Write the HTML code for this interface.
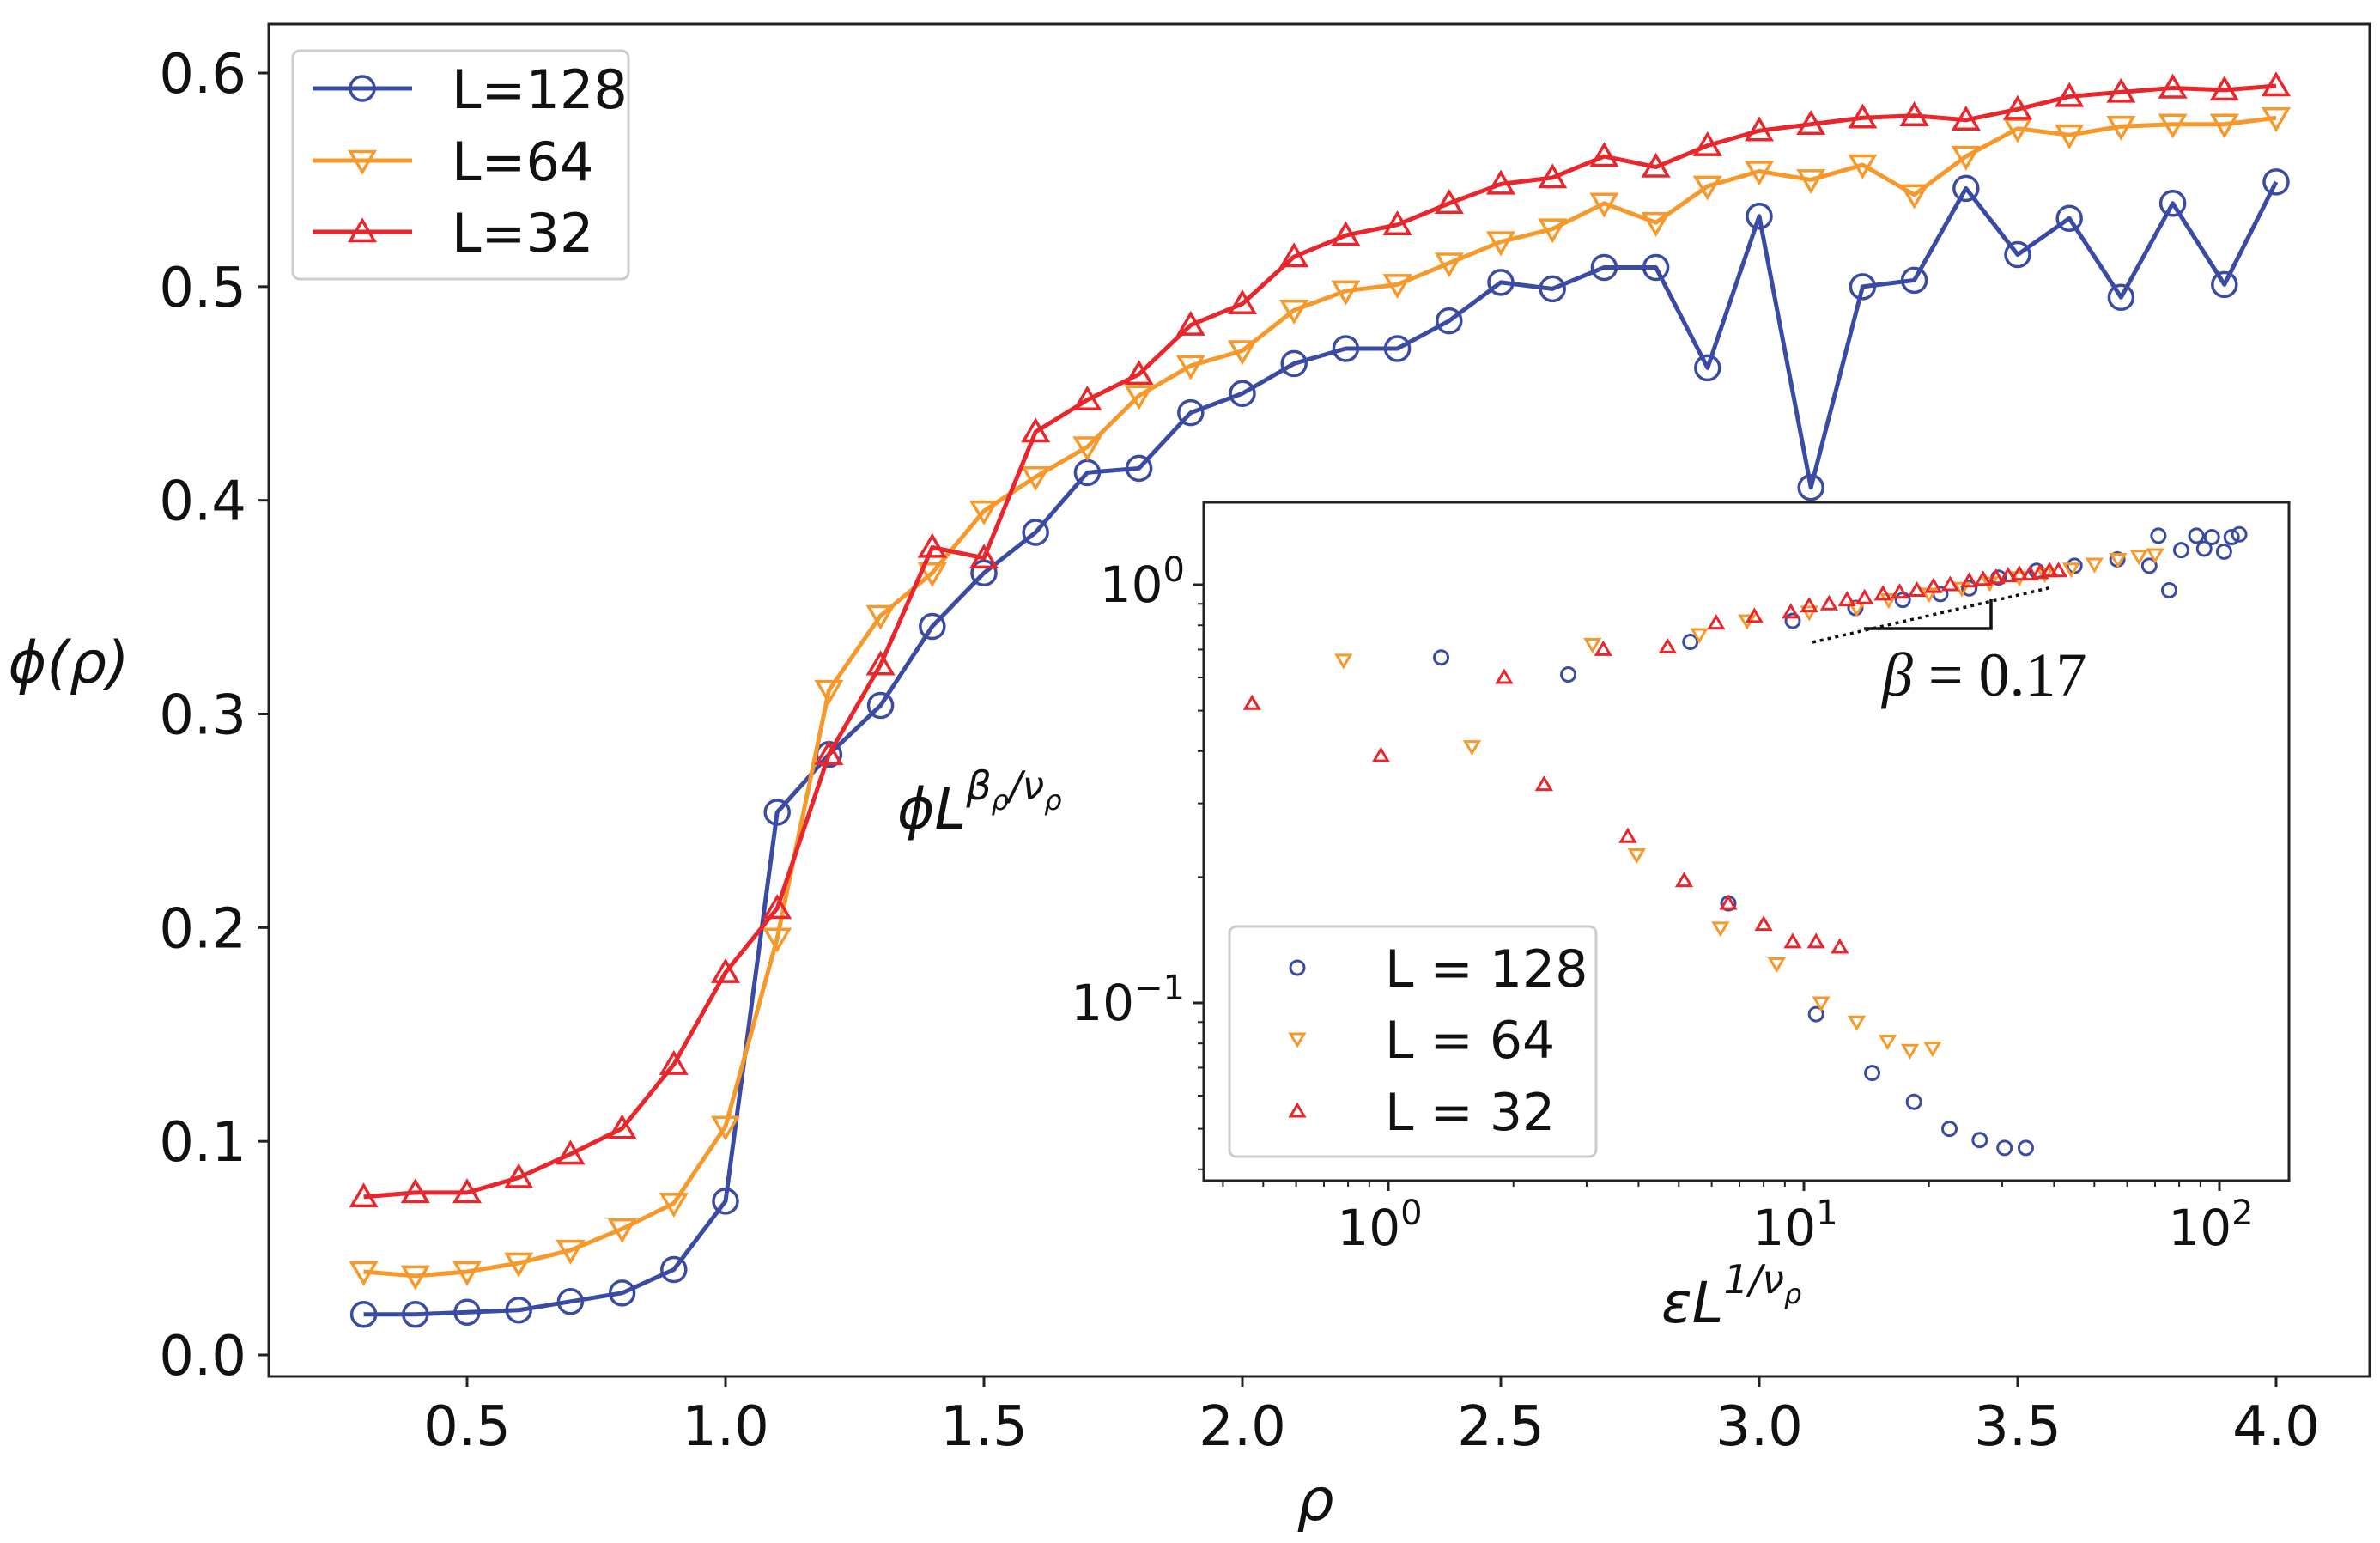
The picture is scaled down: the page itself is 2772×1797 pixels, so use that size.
<!DOCTYPE html>
<html><head><meta charset="utf-8"><style>
html,body{margin:0;padding:0;background:#fff;}
svg{display:block;font-family:"DejaVu Sans","Liberation Sans",sans-serif;}
</style></head><body>
<svg id="chart" width="2772" height="1797" viewBox="0 0 2772 1797" xmlns="http://www.w3.org/2000/svg">
<rect x="0" y="0" width="2772" height="1797" fill="#fff"/>
<g id="main"></g>
<g id="inset"></g>
</svg>
<script>
const rhoValues = [0.3,0.4,0.5,0.6,0.7,0.8,0.9,1.0,1.1,1.2,1.3,1.4,1.5,1.6,1.7,1.8,1.9,2.0,2.1,2.2,2.3,2.4,2.5,2.6,2.7,2.8,2.9,3.0,3.1,3.2,3.3,3.4,3.5,3.6,3.7,3.8,3.9,4.0];
const phiL128 = [0.019,0.019,0.020,0.021,0.025,0.029,0.040,0.072,0.254,0.281,0.304,0.341,0.366,0.385,0.413,0.415,0.441,0.450,0.464,0.471,0.471,0.484,0.502,0.499,0.509,0.509,0.462,0.533,0.406,0.500,0.503,0.546,0.515,0.532,0.495,0.539,0.501,0.549];
const phiL64 = [0.039,0.037,0.039,0.043,0.049,0.059,0.071,0.107,0.195,0.311,0.346,0.366,0.395,0.411,0.425,0.449,0.463,0.470,0.489,0.498,0.501,0.511,0.521,0.527,0.539,0.530,0.547,0.554,0.550,0.557,0.543,0.561,0.574,0.571,0.575,0.576,0.576,0.579];
const phiL32 = [0.074,0.076,0.076,0.083,0.094,0.106,0.136,0.179,0.209,0.281,0.323,0.378,0.373,0.432,0.447,0.459,0.482,0.492,0.514,0.524,0.529,0.539,0.548,0.551,0.561,0.556,0.566,0.573,0.576,0.579,0.580,0.578,0.583,0.589,0.591,0.593,0.592,0.594];
const xTicks = [0.5,1.0,1.5,2.0,2.5,3.0,3.5,4.0];
const yTicks = [0.0,0.1,0.2,0.3,0.4,0.5,0.6];

// inset (log-log) data
const insetX128 = [1.34,2.71,5.33,9.4,13.3,17.3,21.3,25,29.4,36.3,44.8,56.8,67.8,71.3,75.7,80.9,88,91.9,95.9,102.6,107,111.6,6.58,10.7,14.6,18.4,22.4,26.5,30.4,34.2];
const insetY128 = [0.67,0.61,0.73,0.82,0.88,0.92,0.95,0.98,1.04,1.08,1.11,1.15,1.11,1.31,0.97,1.21,1.31,1.22,1.30,1.20,1.30,1.32,0.173,0.094,0.068,0.058,0.050,0.047,0.045,0.045];
const insetX64 = [0.78,3.1,5.6,7.3,10.3,13.4,16,20,24,28,33,38,44,50,57,64,70,1.59,3.96,6.3,8.6,11,13.4,15.9,18,20.4];
const insetY64 = [0.66,0.72,0.76,0.82,0.86,0.88,0.92,0.95,0.98,1.01,1.04,1.06,1.09,1.12,1.15,1.17,1.18,0.41,0.226,0.151,0.124,0.100,0.090,0.081,0.077,0.078];
const insetX32 = [0.47,1.9,3.29,4.7,6.15,7.6,9.3,10.3,11.5,12.7,14,15.5,17,18.7,20.5,22.5,25,27,29,31,33,35,37,39,41,0.96,2.37,3.77,5.15,6.58,8.0,9.4,10.7,12.2];
const insetY32 = [0.52,0.60,0.70,0.71,0.81,0.84,0.86,0.89,0.90,0.92,0.93,0.95,0.96,0.97,0.99,1.00,1.02,1.03,1.04,1.05,1.06,1.06,1.07,1.08,1.08,0.39,0.333,0.25,0.196,0.173,0.154,0.14,0.14,0.136];

const NS = "http://www.w3.org/2000/svg";
const C128 = "#3a4ba3", C64 = "#f7982a", C32 = "#e8262b";
function mk(tag, attrs, parent) { const e = document.createElementNS(NS, tag); for (const k in attrs) e.setAttribute(k, attrs[k]); parent.appendChild(e); return e; }

// main axes
const X0 = 313, X1 = 2760, Y0 = 28, Y1 = 1603;
function xs(v) { return 544 + (v - 0.5) * 602; }
function ys(v) { return 1578 - v * 2488.3; }
const gm = document.getElementById('main');

function marker(g, type, x, y, r, color, sw) {
  let e;
  if (type === 'o') e = mk('circle', {cx: x, cy: y, r: r, fill: 'none', stroke: color, 'stroke-width': sw}, g);
  else if (type === 'v') e = mk('polygon', {points: `${x-r},${y-r*0.75} ${x+r},${y-r*0.75} ${x},${y+r*0.95}`, fill: 'none', stroke: color, 'stroke-width': sw, 'stroke-linejoin': 'miter'}, g);
  else e = mk('polygon', {points: `${x-r},${y+r*0.75} ${x+r},${y+r*0.75} ${x},${y-r*0.95}`, fill: 'none', stroke: color, 'stroke-width': sw, 'stroke-linejoin': 'miter'}, g);
  return e;
}

function series(vals, color, type, name) {
  const g = mk('g', {}, gm);
  
  
  const pts = rhoValues.map((r, i) => xs(r) + ',' + ys(vals[i])).join(' ');
  const pl = mk('polyline', {points: pts, fill: 'none', stroke: color, 'stroke-width': 5, 'stroke-linejoin': 'round'}, g);
  
  
  rhoValues.forEach((r, i) => {
    const m = marker(g, type, xs(r), ys(vals[i]), 14, color, 3.5);
    
    
  });
}
series(phiL128, C128, 'o', 'series-l128');
series(phiL64, C64, 'v', 'series-l64');
series(phiL32, C32, '^', 'series-l32');

const frame = mk('rect', {x: X0, y: Y0, width: X1 - X0, height: Y1 - Y0, fill: 'none', stroke: '#222', 'stroke-width': 3}, gm);


xTicks.forEach(t => {
  const x = xs(t);
  const l = mk('line', {x1: x, y1: Y1, x2: x, y2: Y1 + 12, stroke: '#222', 'stroke-width': 3}, gm);
  
  
  const tx = mk('text', {x: x, y: Y1 + 80, 'font-size': 64, 'text-anchor': 'middle', fill: '#111'}, gm);
  tx.textContent = t.toFixed(1);
  
  
});
yTicks.forEach(t => {
  const y = ys(t);
  const l = mk('line', {x1: X0 - 12, y1: y, x2: X0, y2: y, stroke: '#222', 'stroke-width': 3}, gm);
  
  
  const tx = mk('text', {x: X0 - 26, y: y + 23, 'font-size': 64, 'text-anchor': 'end', fill: '#111'}, gm);
  tx.textContent = t.toFixed(1);
  
  
});
const xl = mk('text', {x: 1532, y: 1770, 'font-size': 68, 'font-style': 'italic', 'text-anchor': 'middle', fill: '#111'}, gm);
xl.textContent = 'ρ';


const yl = mk('text', {x: 80, y: 795, 'font-size': 68, 'font-style': 'italic', 'text-anchor': 'middle', fill: '#111'}, gm);
yl.textContent = 'ϕ(ρ)';



// main legend
const lg = mk('g', {}, gm);


mk('rect', {x: 341, y: 59, width: 391, height: 266, rx: 8, fill: '#fff', stroke: '#ccc', 'stroke-width': 3}, lg);
[[C128, 'o', 'L=128', 103], [C64, 'v', 'L=64', 187], [C32, '^', 'L=32', 270]].forEach(([c, t, s, y]) => {
  const e = mk('g', {}, lg);
  
  
  mk('line', {x1: 364, y1: y, x2: 480, y2: y, stroke: c, 'stroke-width': 5}, e);
  marker(e, t, 422, y, 14, c, 3.5);
  const tx = mk('text', {x: 526, y: y + 23, 'font-size': 62, fill: '#111'}, e);
  tx.textContent = s;
});

// inset
const gi = document.getElementById('inset');
const IX0 = 1402, IX1 = 2666, IY0 = 585, IY1 = 1375;
function lx(v) { return 1617 + Math.log10(v) * 484; }
function ly(v) { return 681 - Math.log10(v) * 487; }
mk('rect', {x: IX0, y: IY0, width: IX1 - IX0, height: IY1 - IY0, fill: '#fff', stroke: 'none'}, gi);

// slope guide
const dl = mk('line', {x1: 2111, y1: 748, x2: 2390, y2: 684, stroke: '#111', 'stroke-width': 3.5, 'stroke-dasharray': '4 5'}, gi);


const br = mk('polyline', {points: '2171,732 2319,732 2319,698', fill: 'none', stroke: '#111', 'stroke-width': 3.5}, gi);


const bt = mk('text', {x: 2192, y: 810, 'font-size': 72, fill: '#111', 'font-family': '"Liberation Serif",serif'}, gi);
bt.innerHTML = '<tspan font-style="italic">β</tspan> = 0.17';



function iseries(xv, yv, color, type, name) {
  const g = mk('g', {}, gi);
  
  
  xv.forEach((x, i) => {
    const m = marker(g, type, lx(x), ly(yv[i]), 8, color, 3);
    
    
  });
}
iseries(insetX128, insetY128, C128, 'o', 'inset-l128');
iseries(insetX64, insetY64, C64, 'v', 'inset-l64');
iseries(insetX32, insetY32, C32, '^', 'inset-l32');

const ifr = mk('rect', {x: IX0, y: IY0, width: IX1 - IX0, height: IY1 - IY0, fill: 'none', stroke: '#222', 'stroke-width': 3}, gi);


// x ticks
for (let d = -1; d <= 2; d++) {
  for (let m = 1; m <= 9; m++) {
    const v = m * Math.pow(10, d);
    const x = lx(v);
    if (x < IX0 || x > IX1) continue;
    const len = m === 1 ? 12 : 7;
    mk('line', {x1: x, y1: IY1, x2: x, y2: IY1 + len, stroke: '#222', 'stroke-width': m === 1 ? 3 : 2}, gi);
    if (m === 1) {
      const t = mk('text', {x: x - 10, y: IY1 + 75, 'font-size': 58, 'text-anchor': 'middle', fill: '#111'}, gi);
      t.innerHTML = '10<tspan dy="-24" font-size="40">' + d + '</tspan>';
      
      
    }
  }
}
for (let d = -2; d <= 0; d++) {
  for (let m = 1; m <= 9; m++) {
    const v = m * Math.pow(10, d);
    const y = ly(v);
    if (y < IY0 || y > IY1) continue;
    const len = m === 1 ? 12 : 7;
    mk('line', {x1: IX0 - len, y1: y, x2: IX0, y2: y, stroke: '#222', 'stroke-width': m === 1 ? 3 : 2}, gi);
    if (m === 1) {
      const t = mk('text', {x: IX0 - 22, y: y + 20, 'font-size': 58, 'text-anchor': 'end', fill: '#111'}, gi);
      t.innerHTML = '10<tspan dy="-24" font-size="40">' + (d === 0 ? '0' : '−1') + '</tspan>';
      
      
    }
  }
}
const ixl = mk('text', {x: 1935, y: 1540, 'font-size': 66, fill: '#111'}, gi);
ixl.innerHTML = '<tspan font-style="italic">εL</tspan><tspan dy="-34" font-size="46" font-style="italic">1/ν</tspan><tspan dy="12" font-size="32" font-style="italic">ρ</tspan>';


const iyl = mk('text', {x: 1045, y: 965, 'font-size': 66, fill: '#111'}, gi);
iyl.innerHTML = '<tspan font-style="italic">ϕL</tspan><tspan dy="-34" font-size="46" font-style="italic">β</tspan><tspan dy="12" font-size="32" font-style="italic">ρ</tspan><tspan dy="-12" font-size="46" font-style="italic">/ν</tspan><tspan dy="12" font-size="32" font-style="italic">ρ</tspan>';



// inset legend
const il = mk('g', {}, gi);


mk('rect', {x: 1432, y: 1079, width: 427, height: 268, rx: 8, fill: '#fff', stroke: '#ccc', 'stroke-width': 3}, il);
[[C128, 'o', 'L = 128', 1127], [C64, 'v', 'L = 64', 1210], [C32, '^', 'L = 32', 1294]].forEach(([c, t, s, y]) => {
  const e = mk('g', {}, il);
  
  
  marker(e, t, 1511, y, 8, c, 3);
  const tx = mk('text', {x: 1613, y: y + 22, 'font-size': 60, fill: '#111'}, e);
  tx.textContent = s;
});
</script>
</body></html>
